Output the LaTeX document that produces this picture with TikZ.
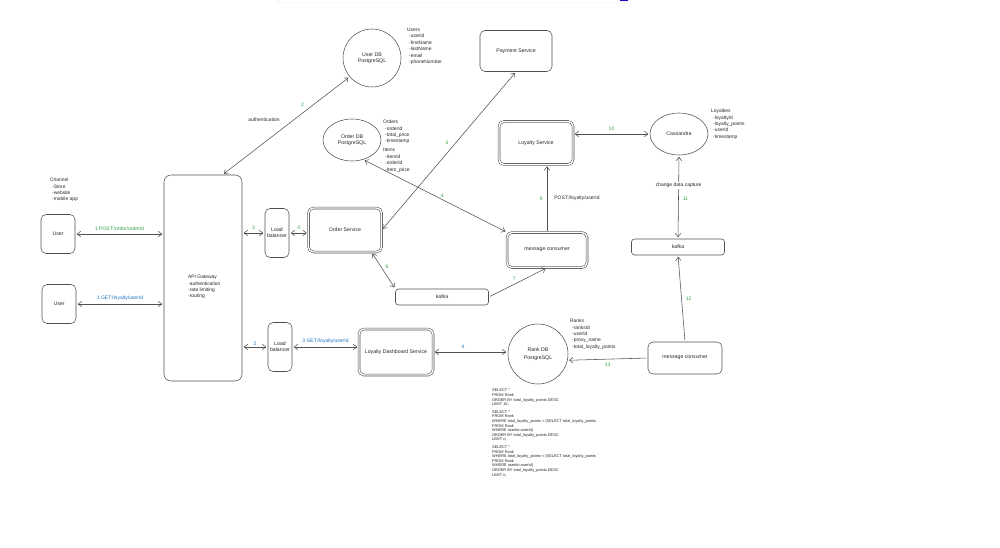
\documentclass[tikz,border=0pt]{standalone}
\usepackage{fontspec}
\setmainfont{Liberation Sans}
\usetikzlibrary{arrows.meta,shapes.geometric,calc}
\definecolor{okgreen}{HTML}{2F9E44}
\definecolor{okblue}{HTML}{1971C2}
\definecolor{linegray}{HTML}{505050}

\begin{document}
\begin{tikzpicture}[x=1pt, y=-1pt,
        >={Straight Barb[length=3.5pt,width=5.5pt]},
        box/.style={draw=linegray, line width=0.55pt, rounded corners=5pt, inner sep=0pt,
            text=black!85, font=\fontsize{5.2}{6.2}\selectfont, align=center},
        dblbox/.style={box, double=white, double distance=1.4pt},
        db/.style={draw=linegray, line width=0.55pt, inner sep=0pt,
            text=black!85, font=\fontsize{5.2}{6.2}\selectfont, align=center},
        link/.style={draw=linegray, line width=0.55pt, shorten <=1.5pt, shorten >=1.5pt},
        note/.style={font=\fontsize{4.9}{6.4}\selectfont, text=black!85, align=left,
            inner sep=0pt, anchor=north west},
        greentxt/.style={text=okgreen, font=\fontsize{5}{6}\selectfont, inner sep=1pt},
        bluetxt/.style={text=okblue, font=\fontsize{5}{6}\selectfont, inner sep=1pt},
        plaintxt/.style={text=black!85, font=\fontsize{5}{6}\selectfont, inner sep=1pt}]

    \useasboundingbox (0,0) rectangle (1000,548);

    % toolbar edge at the top
    \draw[gray!20, fill=white, rounded corners=6pt] (276,-12) rectangle (630,3);
    \fill[blue!10] (283,-2) rectangle (300,0.5);
    \fill[blue!10] (315,-2) rectangle (332,0.5);
    \fill[blue!60!violet] (620,-2) rectangle (628,1.5);

    % clients and gateway
    \node[box, minimum width=34pt, minimum height=39pt] (usera) at (58,234) {User};
    \node[box, minimum width=34pt, minimum height=39pt] (userb) at (59,304) {User};
    \node[box, rounded corners=7pt, minimum width=78pt, minimum height=206pt] (api) at (203,278) {};
    \node[note] (apitxt) at (188,275) {API Gateway\\-authentication\\-rate limiting\\-routing};
    \node[note] (channel) at (50,178) {Channel\\\hspace{2pt}-Store\\\hspace{2pt}-website\\\hspace{2pt}-mobile app};

    \node[box, minimum width=24pt, minimum height=49pt] (lbo) at (277,233) {Load\\balancer};
    \node[box, minimum width=24pt, minimum height=49pt] (lbl) at (280,347) {Load\\balancer};

    % services
    \node[dblbox, minimum width=73pt, minimum height=44pt] (ordersvc) at (345,230) {Order Service};
    \node[dblbox, minimum width=74pt, minimum height=46pt] (dash) at (396,352) {Loyalty Dashboard Service};
    \node[box, minimum width=72pt, minimum height=41pt] (payment) at (516,51) {Payment Service};
    \node[dblbox, minimum width=74pt, minimum height=43pt] (loyaltysvc) at (536,143) {Loyalty Service};
    \node[dblbox, minimum width=80pt, minimum height=35pt] (consumera) at (547,250) {message consumer};
    \node[box, minimum width=74pt, minimum height=32pt] (consumerb) at (685,358) {message consumer};
    \node[box, rounded corners=3pt, minimum width=93pt, minimum height=16pt] (kafkaa) at (442,297) {kafka};
    \node[box, rounded corners=3pt, minimum width=93pt, minimum height=16pt] (kafkab) at (678,247) {kafka};

    % databases
    \node[db, circle, minimum size=58pt] (userdb) at (372,58) {User DB\\PostgreSQL};
    \node[db, ellipse, minimum width=58pt, minimum height=42pt] (orderdb) at (352,140) {Order DB\\PostgreSQL};
    \node[db, circle, minimum size=60pt] (rankdb) at (538,354) {Rank DB\\[2pt]PostgreSQL};
    \node[db, ellipse, minimum width=58pt, minimum height=42pt] (cassandra) at (679,134) {Cassandra};

    % tables
    \node[note] (userstbl) at (407,28) {Users\\\hspace{2pt}-userId\\\hspace{2pt}-firstName\\\hspace{2pt}-lastName\\\hspace{2pt}-email\\\hspace{2pt}-phoneNumber};
    \node[note] (orderstbl) at (383,120) {Orders\\\hspace{2pt}-orderId\\\hspace{2pt}-total\_price\\\hspace{2pt}-timestamp\\[2.5pt]Items\\\hspace{2pt}-ItemId\\\hspace{2pt}-orderId\\\hspace{2pt}-Item\_price};
    \node[note] (loyaltiestbl) at (711,109) {Loyalties\\\hspace{2pt}-loyaltyId\\\hspace{2pt}-loyalty\_points\\\hspace{2pt}-userId\\\hspace{2pt}-timestamp};
    \node[note] (rankstbl) at (570,319) {Ranks\\\hspace{2pt}-ranksId\\\hspace{2pt}-userId\\\hspace{2pt}-proxy\_name\\\hspace{2pt}-total\_loyalty\_points};
    \node[note, font=\fontsize{3.9}{4.6}\selectfont] (queries) at (492,389) {SELECT *\\FROM Rank\\ORDER BY total\_loyalty\_points DESC\\LIMIT 10;\\[3pt]
        SELECT *\\FROM Rank\\WHERE total\_loyalty\_points > (SELECT total\_loyalty\_points\\FROM Rank\\WHERE userId=userId)\\ORDER BY total\_loyalty\_points DESC\\LIMIT n;\\[3pt]
        SELECT *\\FROM Rank\\WHERE total\_loyalty\_points < (SELECT total\_loyalty\_points\\FROM Rank\\WHERE userId=userId)\\ORDER BY total\_loyalty\_points DESC\\LIMIT n;};

    % requests
    \draw[link, <->] (usera.east) -- (api.west |- usera.east) node[greentxt, midway, above=2pt] (lpost) {1 POST:/order/orderId};
    \draw[link, <->] (userb.east) -- (api.west |- userb.east) node[bluetxt, midway, above=2pt] (lget) {1 GET:/loyalty/userId};
    \draw[link, <->] (api.east |- lbo.west) -- (lbo.west) node[greentxt, midway, above=2pt] (lthree) {3};
    \draw[link, <->] (lbo.east) -- (lbo.east -| ordersvc.west) node[greentxt, midway, above=2pt] (lfour) {4};
    \draw[link, <->] (api.east |- lbl.west) -- (lbl.west) node[bluetxt, midway, above=0pt] (ltwo) {2};
    \draw[link, <->] (lbl.east) -- (lbl.east -| dash.west) node[bluetxt, midway, above=2pt] (lgetb) {3 GET:/loyalty/userId};
    \draw[link, <->] (dash.east) -- (dash.east -| rankdb.west) node[bluetxt, pos=0.4, above=2pt] (lfourb) {4};
    \draw[link, <->] ($(api.north)!0.5!(api.north east)$) -- (userdb.220) node[greentxt, pos=0.63, above=5pt] (ltwoc) {2};
    \node[plaintxt] (authlbl) at (264,120) {authentication};

    % order flow
    \draw[link, <->] (ordersvc.east) -- (payment.south) node[greentxt, pos=0.55, left=6pt] (lfive) {5};
    \draw[link, <->] (orderdb.-60) -- (consumera.north west) node[greentxt, pos=0.55, above=1pt] (lfourc) {4};
    \draw[link, <->] (ordersvc.-40) -- (kafkaa.north west) node[greentxt, midway, above right=1pt] (lsix) {6};
    \draw[link, ->] (kafkaa.east) -- (consumera.south) node[greentxt, midway, above left=1pt] (lseven) {7};
    \draw[link, ->] (consumera.north) -- (consumera.north |- loyaltysvc.south)
        node[greentxt, midway, left=3pt] (lnine) {9}
        node[plaintxt, midway, right=6pt] (lpostb) {POST:/loyalty/userId};

    % loyalty data
    \draw[link, <->] (loyaltysvc.east |- cassandra.west) -- (cassandra.west) node[greentxt, midway, above=2pt] (lten) {10};
    \draw[link, <->] (cassandra.south) -- (kafkab.north)
        node[plaintxt, fill=white, pos=0.36] (lcdc) {change data capture}
        node[greentxt, pos=0.52, right=3pt] (leleven) {11};
    \draw[link, ->] (consumerb.north) -- (kafkab.south) node[greentxt, midway, right=3pt] (ltwelve) {12};
    \draw[link, ->] (consumerb.west) -- (rankdb.-12) node[greentxt, midway, below=3pt] (lthirteen) {13};

\end{tikzpicture}
\end{document}
